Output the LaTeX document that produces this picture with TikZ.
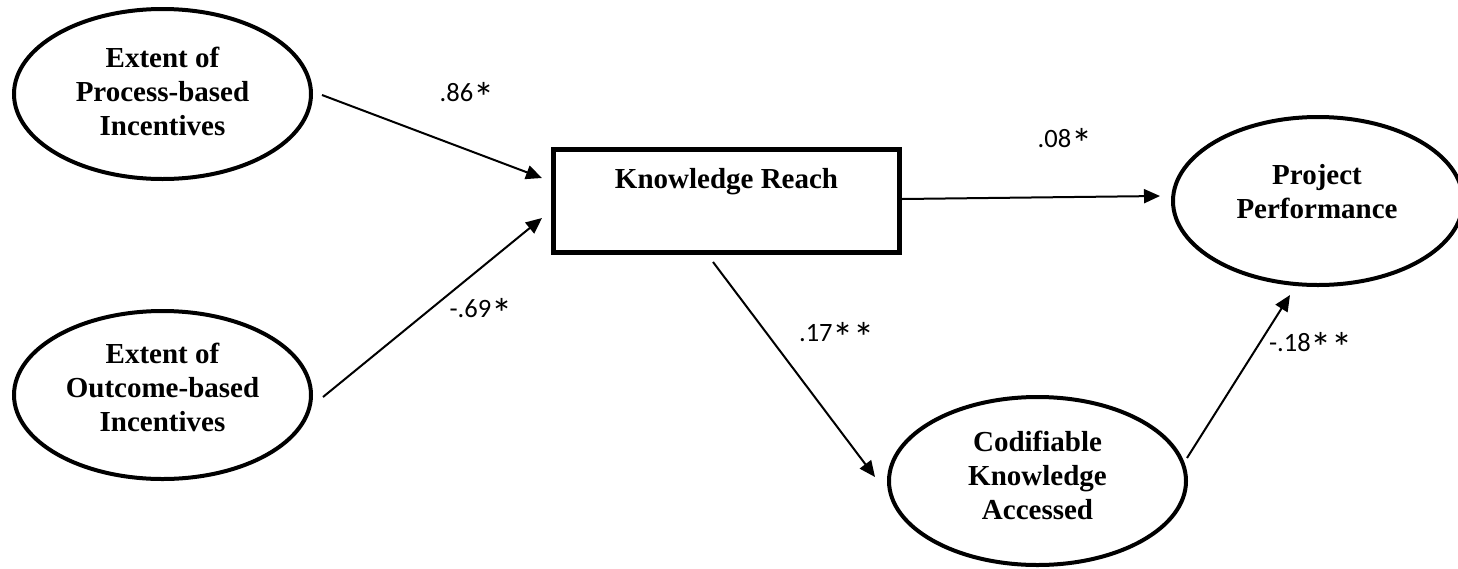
\documentclass[tikz,border=0pt]{standalone}
\usepackage{fontspec}
\usepackage{graphicx}
\setmainfont{Liberation Serif}
\newfontfamily\coeffont{Carlito}
\newcommand\cstar{\raisebox{-10.5pt}{\scalebox{1.6}{*}}}
\usetikzlibrary{shapes.geometric,arrows.meta,calc}
\begin{document}
\begin{tikzpicture}[x=1pt,y=-1pt,
  ell/.style={ellipse,draw,line width=4pt,inner sep=0pt,outer sep=0pt,minimum width=297pt,minimum height=168pt},
  ntext/.style={font=\fontsize{29}{34}\selectfont\bfseries,align=center,inner sep=0pt},
  coef/.style={font=\coeffont\fontsize{26.5}{32}\selectfont,inner sep=0pt},
  arr/.style={-{Triangle[length=16pt,width=14pt]},line width=2pt},
  kbox/.style={rectangle,draw,line width=5pt,inner sep=0pt,outer sep=0pt,minimum width=346pt,minimum height=103pt,
    font=\fontsize{29}{34}\selectfont\bfseries,text height=20pt,text depth=46pt}]
\useasboundingbox (0,0) rectangle (1458,568);

% nodes
\node[ell,minimum height=170pt,label={[ntext,yshift=2.8pt]center:{Extent of\\Process-based\\Incentives}}] (e1) at (162.5,94) {};
\node[ell,label={[ntext,yshift=7.3pt]center:{Extent of\\Outcome-based\\Incentives}}] (e2) at (162.5,395) {};
\node[kbox] (kr) at (726.5,201) {Knowledge Reach};
\node[ell,minimum width=290pt,label={[ntext,yshift=9.3pt,xshift=-1pt]center:{Project\\Performance}}] (pp) at (1318,201) {};
\node[ell,label={[ntext,yshift=5.8pt]center:{Codifiable\\Knowledge\\Accessed}}] (ck) at (1037.5,481) {};

% connectors
\draw[arr] ($(e1.east)+(11,1)$) -- ($(kr.west)+(-11.5,-23)$);
\draw[arr] ($(e2.east)+(12,2)$) -- ($(kr.west)+(-11.5,17)$);
\draw[arr] ($(kr.east)+(2.5,-2)$) -- ($(pp.west)+(-13,-5)$);
\draw[arr] ($(kr.south)+(-13.5,9.5)$) -- ($(ck.west)+(-14,-4)$);
\draw[arr] ($(ck.east)+(1,-23)$) -- ($(pp.south)+(-28,10)$);

% coefficients
\node[coef] (c1) at (467,97) {.86\cstar};
\node[coef] (c2) at (481,313) {-.69\cstar};
\node[coef] (c3) at (1065,143) {.08\cstar};
\node[coef] (c4) at (837,337) {.17\cstar\cstar};
\node[coef] (c5) at (1311,347) {-.18\cstar\cstar};
\end{tikzpicture}
\end{document}
